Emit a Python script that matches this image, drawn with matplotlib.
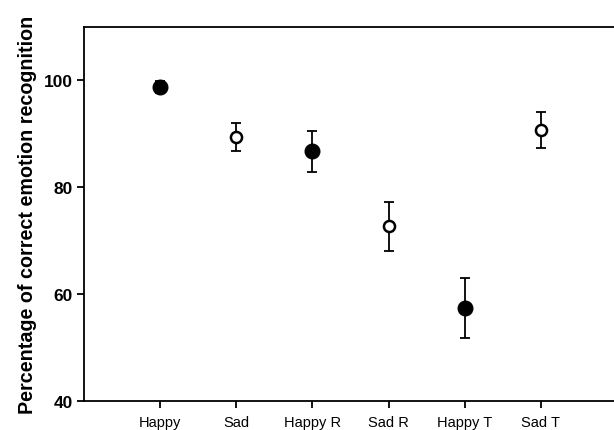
import matplotlib
matplotlib.use("Agg")
import matplotlib.pyplot as plt

categories = ["Happy", "Sad", "Happy R", "Sad R", "Happy T", "Sad T"]
means = [98.7, 89.4, 86.7, 72.7, 57.4, 90.7]
errors = [1.1, 2.6, 3.9, 4.6, 5.65, 3.3]
filled = [True, False, True, False, True, False]
yticks = [40, 60, 80, 100]

plt.rcParams['font.family'] = ['Liberation Sans', 'DejaVu Sans']

fig = plt.figure(figsize=(6.14, 4.31), dpi=100)
ax = fig.add_axes([84/614, 1 - 402/431, 533/614, 374/431])

xs = list(range(1, len(categories) + 1))
for x, m, e, f in zip(xs, means, errors, filled):
    ax.errorbar(x, m, yerr=e, fmt='none', ecolor='black', elinewidth=1.3,
                capsize=3.5, capthick=1.3, zorder=2)
    if f:
        ax.plot(x, m, 'o', color='black', markersize=10.5, zorder=3)
    else:
        ax.plot(x, m, 'o', markerfacecolor='white', markeredgecolor='black',
                markeredgewidth=1.8, markersize=8, zorder=3)

ax.set_xlim(0, 7)
ax.set_ylim(40, 110)
ax.set_xticks(xs)
ax.set_xticklabels(categories, fontsize=10.5)
ax.set_yticks(yticks)
ax.set_yticklabels([str(t) for t in yticks], fontsize=12.5, fontweight='bold')
ax.tick_params(axis='both', direction='out', length=5, width=1.3, colors='black', pad=3)
ax.tick_params(axis='x', pad=5)
for s in ax.spines.values():
    s.set_linewidth(1.3)
ax.spines['right'].set_visible(False)
ax.set_ylabel("Percentage of correct emotion recognition", fontsize=14.2,
              fontweight='bold')
ax.yaxis.set_label_coords(-47/533, 0.5)

fig.savefig("out.png", dpi=100)
